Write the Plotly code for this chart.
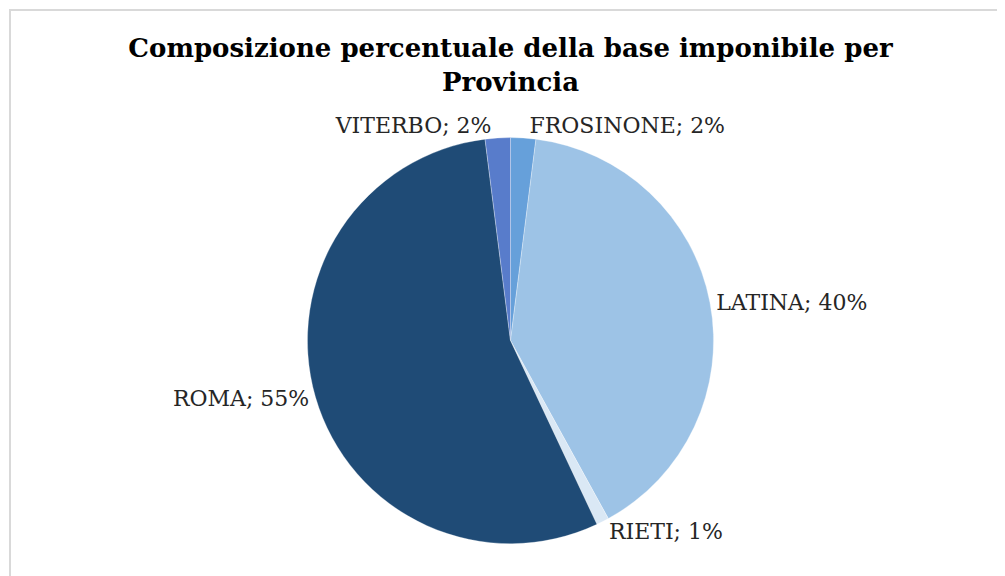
import plotly.graph_objects as go

provinces = ["FROSINONE", "LATINA", "RIETI", "ROMA", "VITERBO"]
shares = [2, 40, 1, 55, 2]
colors = ["#66A0DA", "#9DC3E6", "#DAE8F5", "#1F4B76", "#587CCB"]
labels_text = [f"{p}; {v}%" for p, v in zip(provinces, shares)]

fig = go.Figure(go.Pie(
    labels=provinces,
    values=shares,
    text=labels_text,
    textinfo="text",
    textposition="outside",
    sort=False,
    direction="clockwise",
    rotation=0,
    marker=dict(colors=colors, line=dict(color="rgba(255,255,255,0.6)", width=0.5)),
    textfont=dict(family="DejaVu Serif", size=22, color="#262626"),
    domain=dict(x=[0.08, 0.92], y=[0.07, 0.775]),
    showlegend=False,
    hoverinfo="label+percent",
    automargin=False,
))

fig.update_layout(
    width=1005, height=576,
    margin=dict(l=0, r=0, t=0, b=0, autoexpand=False),
    paper_bgcolor="white",
    title=dict(
        text="<b>Composizione percentuale della base imponibile per<br>Provincia</b>",
        x=0.5, xanchor="center", y=0.915, yanchor="top",
        font=dict(family="DejaVu Serif", size=26, color="#000000"),
        automargin=False,
    ),
    shapes=[dict(type="rect", xref="paper", yref="paper",
                 x0=2/1005, x1=1.02, y0=-0.02, y1=1-2/576,
                 line=dict(color="#D9D9D9", width=2), layer="below")],
)

fig.write_html("out.html")
